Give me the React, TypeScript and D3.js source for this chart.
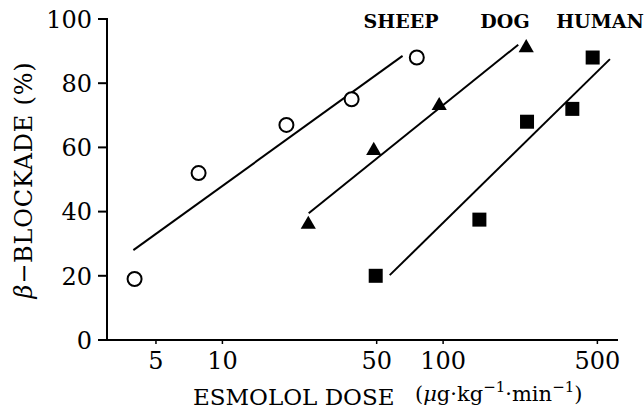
import { scaleLog, scaleLinear, line, symbol, symbolTriangle } from "d3";

const sheepDose = [4, 7.8, 19.5, 38.5, 76];
const sheepBlock = [19, 52, 67, 75, 88];
const dogDose = [24.5, 48.5, 96, 238];
const dogBlock = [36, 59, 73, 91];
const humanDose = [49.5, 146, 240, 385, 476];
const humanBlock = [20, 37.5, 68, 72, 88];

// end points of the regression lines
const sheepFit = [[3.95, 28], [65.5, 88.5]];
const dogFit = [[24.6, 39.5], [219, 92]];
const humanFit = [[57.3, 20.2], [570, 87.5]];

const xTicks = [5, 10, 50, 100, 500];
const yTicks = [0, 20, 40, 60, 80, 100];
const speciesLabels = ["SHEEP", "DOG", "HUMAN"];

const width = 644;
const height = 410;
const left = 107;
const right = 618;
const top = 19;
const bottom = 340;
const font = "'DejaVu Serif', serif";

function App() {
  const x = scaleLog().domain([3, 620]).range([left, right]);
  const y = scaleLinear().domain([0, 100]).range([bottom, top]);
  const fitLine = line<number[]>()
    .x((d) => x(d[0]))
    .y((d) => y(d[1]));
  const tri = symbol().type(symbolTriangle).size(100)() ?? "";
  const labelX = [401, 505, 600];

  return (
    <svg
      width={width}
      height={height}
      style={{ position: "absolute", left: 0, top: 0, background: "#fff" }}
      fontFamily={font}
    >
      <line x1={left} x2={left} y1={top} y2={bottom} stroke="#000" strokeWidth={2} />
      <line x1={left} x2={right} y1={bottom} y2={bottom} stroke="#000" strokeWidth={2} />
      {yTicks.map((t) => (
        <g key={t}>
          <line x1={left - 9} x2={left + 1} y1={y(t)} y2={y(t)} stroke="#000" strokeWidth={2} />
          <text x={left - 15} y={y(t)} dy="0.37em" textAnchor="end" fontSize={24}>
            {t}
          </text>
        </g>
      ))}
      {xTicks.map((t) => (
        <g key={t}>
          <line x1={x(t)} x2={x(t)} y1={bottom} y2={bottom + 4} stroke="#000" strokeWidth={1.5} />
          <text x={x(t)} y={bottom + 29} textAnchor="middle" fontSize={24}>
            {t}
          </text>
        </g>
      ))}
      <text
        transform={`translate(32, 180) rotate(-90)`}
        textAnchor="middle"
        fontSize={24}
        letterSpacing={0.8}
      >
        <tspan fontStyle="italic">β</tspan>−BLOCKADE (%)
      </text>
      <text x={193} y={405} fontSize={23}>
        ESMOLOL DOSE
      </text>
      <text x={415} y={401} fontSize={21}>
        (<tspan fontStyle="italic">μ</tspan>g·kg
        <tspan dy={-9} fontSize={15}>−1</tspan>
        <tspan dy={9}>·min</tspan>
        <tspan dy={-9} fontSize={15}>−1</tspan>
        <tspan dy={9}>)</tspan>
      </text>
      {speciesLabels.map((s, i) => (
        <text key={s} x={labelX[i]} y={28} textAnchor="middle" fontSize={19} fontWeight="bold">
          {s}
        </text>
      ))}
      {[sheepFit, dogFit, humanFit].map((f, i) => (
        <path key={i} d={fitLine(f) ?? ""} fill="none" stroke="#000" strokeWidth={2} />
      ))}
      {sheepDose.map((d, i) => (
        <circle
          key={`s${i}`}
          cx={x(d)}
          cy={y(sheepBlock[i])}
          r={7}
          fill="#fff"
          stroke="#000"
          strokeWidth={2}
        />
      ))}
      {dogDose.map((d, i) => (
        <path
          key={`d${i}`}
          d={tri}
          transform={`translate(${x(d)},${y(dogBlock[i])})`}
          fill="#000"
        />
      ))}
      {humanDose.map((d, i) => (
        <rect
          key={`h${i}`}
          x={x(d) - 7}
          y={y(humanBlock[i]) - 7}
          width={14}
          height={14}
          fill="#000"
        />
      ))}
    </svg>
  );
}

export default App;
